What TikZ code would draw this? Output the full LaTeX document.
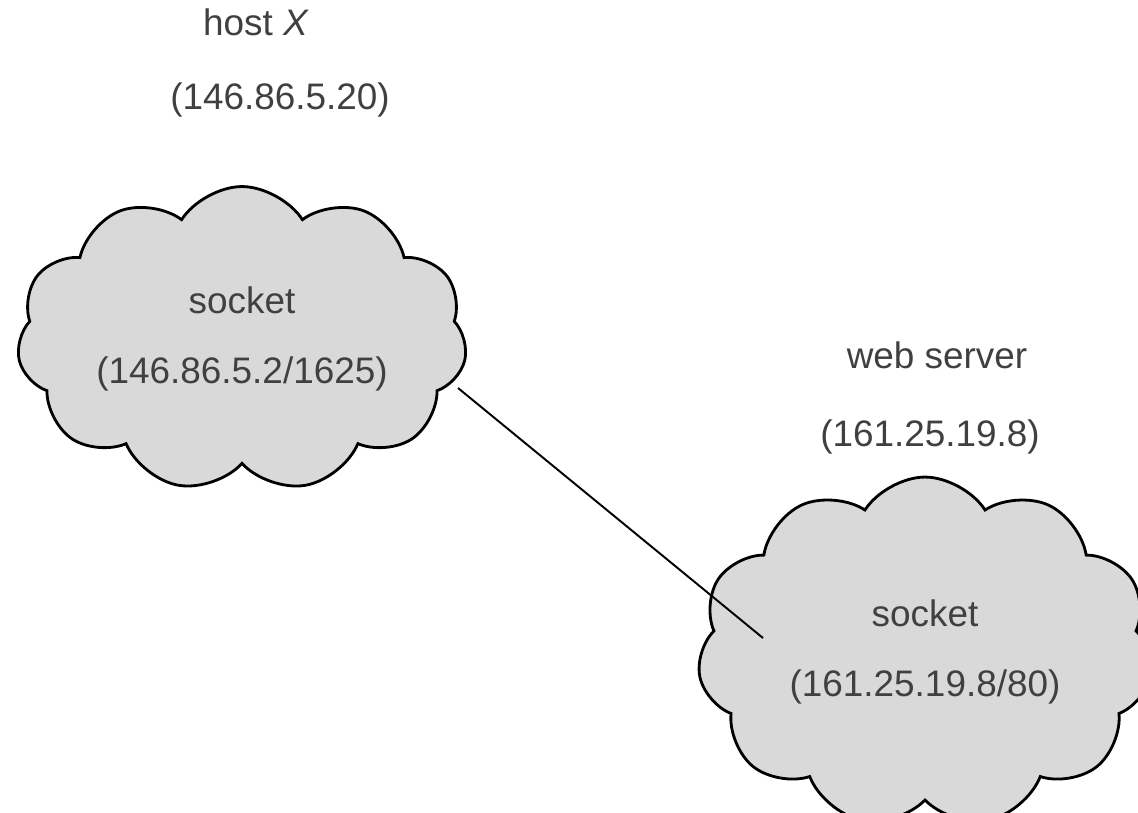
\documentclass[tikz,border=0pt]{standalone}
\usepackage{fontspec}
\setmainfont{Liberation Sans}
\usetikzlibrary{shapes.symbols}

\tikzset{
  sockcloud/.style = {cloud, cloud puffs=11, cloud puff arc=115, cloud ignores aspect,
                      draw=black, line width=1.6pt, fill=black!15, align=center,
                      text=black!75, font=\fontsize{21}{40}\selectfont},
  hostlabel/.style = {text=black!75, font=\fontsize{21}{25}\selectfont},
  link/.style      = {line width=1.1pt}
}

\begin{document}
\begin{tikzpicture}[x=0.02cm, y=-0.02cm]
    \useasboundingbox (0,0) rectangle (1138,812);

    % Sockets
    \node[sockcloud, minimum width=9cm, minimum height=6.1cm] (hostsock) at (242,339)
        {socket\\(146.86.5.2/1625)};
    \node[sockcloud, minimum width=9.1cm, minimum height=7cm] (websock) at (925,652)
        {socket\\(161.25.19.8/80)};

    % Labels
    \node[hostlabel] (hostname) at (256,22) {host \textit{X}};
    \node[hostlabel] (hostaddr) at (280,100) {(146.86.5.20)};
    \node[hostlabel] (webname)  at (937,355) {web server};
    \node[hostlabel] (webaddr)  at (930,437) {(161.25.19.8)};

    % Connection
    \coordinate (linkA) at (458,388);
    \coordinate (linkB) at (763,638);
    \draw[link] (linkA) -- (linkB);
\end{tikzpicture}
\end{document}
